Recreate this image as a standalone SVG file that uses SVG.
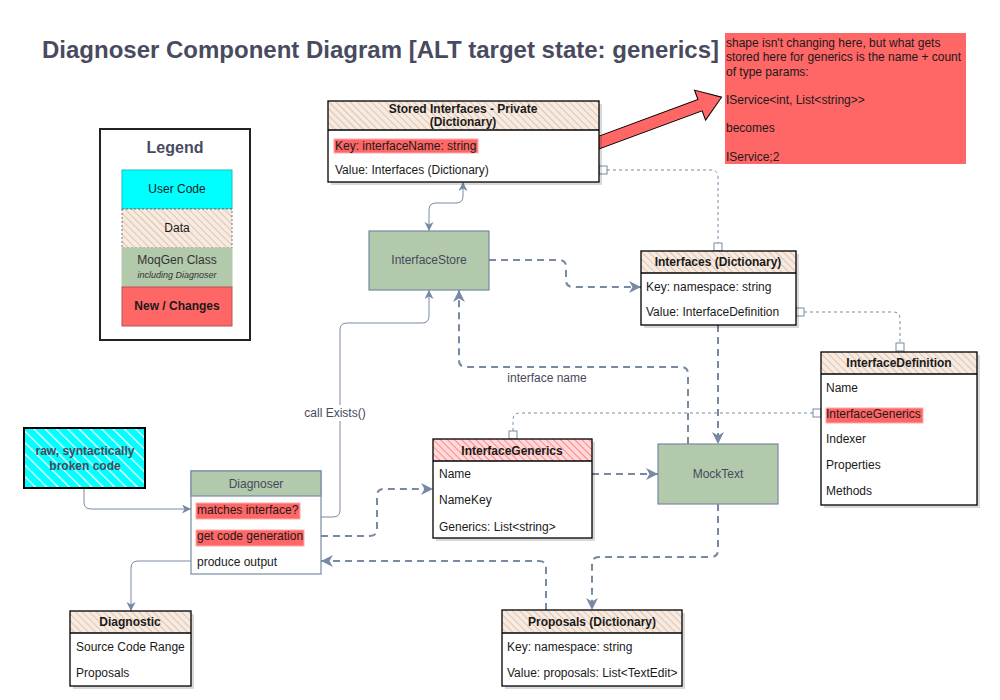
<svg xmlns="http://www.w3.org/2000/svg" width="1000" height="700" viewBox="0 0 1000 700">
<defs>
<pattern id="hatchData" patternUnits="userSpaceOnUse" width="5" height="5" patternTransform="rotate(-45)">
<rect width="5" height="5" fill="#f6ebe2"/>
<line x1="0" y1="0" x2="0" y2="5" stroke="#deb99c" stroke-width="1.6"/>
</pattern>
<pattern id="hatchRed" patternUnits="userSpaceOnUse" width="5" height="5" patternTransform="rotate(-45)">
<rect width="5" height="5" fill="#ffd9d9"/>
<line x1="0" y1="0" x2="0" y2="5" stroke="#ff7f7f" stroke-width="1.8"/>
</pattern>
<pattern id="hatchCyan" patternUnits="userSpaceOnUse" width="8" height="8" patternTransform="rotate(-45)">
<rect width="8" height="8" fill="#00ffff"/>
<line x1="0" y1="0" x2="0" y2="8" stroke="#ffffff" stroke-width="2.5"/>
</pattern>
<marker id="arrD" markerUnits="userSpaceOnUse" markerWidth="14" markerHeight="12" refX="12" refY="6" orient="auto">
<path d="M0,0 L12,6 L0,12 L3.5,6 z" fill="#788AA3"/>
</marker>
<marker id="arrS" markerUnits="userSpaceOnUse" markerWidth="10" markerHeight="10" refX="9" refY="4.5" orient="auto-start-reverse">
<path d="M0,0 L9,4.5 L0,9 L2.5,4.5 z" fill="#788AA3"/>
</marker>
</defs>
<style>
.t{font-family:"Liberation Sans",Arial,sans-serif;}
.row{font-family:"Liberation Sans",Arial,sans-serif;font-size:12px;fill:#1a1a1a;}
.hdr{font-family:"Liberation Sans",Arial,sans-serif;font-size:12px;font-weight:bold;fill:#1a1a1a;text-anchor:middle;}
.node{font-family:"Liberation Sans",Arial,sans-serif;font-size:12px;fill:#46495D;text-anchor:middle;}
.lbl{font-family:"Liberation Sans",Arial,sans-serif;font-size:12px;fill:#46495D;text-anchor:middle;}
.tbl{fill:none;stroke:#000;stroke-width:1.3;}
.shd{fill:#000;opacity:0.15;}
.green{fill:#B2C9AB;stroke:#788AA3;stroke-width:1.2;}
.hl{fill:#FF6666;stroke:#ffaaaa;stroke-width:1;}
.dash{fill:none;stroke:#788AA3;stroke-width:2;stroke-dasharray:7 5;}
.solid{fill:none;stroke:#788AA3;stroke-width:1;}
.dot{fill:none;stroke:#788AA3;stroke-width:1;stroke-dasharray:3 3;}
.sq{fill:#fff;stroke:#788AA3;stroke-width:1;}
</style>
<rect width="1000" height="700" fill="#ffffff"/>

<text class="t" x="42" y="58" font-size="24" font-weight="bold" fill="#484B5E">Diagnoser Component Diagram [ALT target state: generics]</text>

<g id="legend">
<rect x="100" y="129" width="150" height="211" fill="#fff" stroke="#222" stroke-width="2"/>
<text class="t" x="175" y="153" font-size="16" font-weight="bold" fill="#484B5E" text-anchor="middle">Legend</text>
<rect x="122" y="170" width="110" height="39" fill="#00ffff" stroke="#1fbcbc" stroke-width="1"/>
<text class="t" x="177" y="193" font-size="12" fill="#1a1a1a" text-anchor="middle">User Code</text>
<rect x="122" y="209" width="110" height="39" fill="url(#hatchData)" stroke="#555" stroke-width="0.8" stroke-dasharray="2 2"/>
<text class="t" x="177" y="232" font-size="12" fill="#1a1a1a" text-anchor="middle">Data</text>
<rect x="122" y="248" width="110" height="39" fill="#B2C9AB" stroke="#B2C9AB"/>
<text class="t" x="177" y="264" font-size="12" fill="#333" text-anchor="middle">MoqGen Class</text>
<text class="t" x="177" y="278" font-size="9" font-style="italic" fill="#333" text-anchor="middle">including Diagnoser</text>
<rect x="122" y="287" width="110" height="39" fill="#FF6666" stroke="#b85450" stroke-width="1"/>
<text class="t" x="177" y="310" font-size="12" font-weight="bold" fill="#1a1a1a" text-anchor="middle">New / Changes</text>
</g>

<g id="note">
<rect x="725" y="33" width="241" height="131" fill="#FF6666"/>
<text class="t" font-size="12" fill="#1a1a1a">
<tspan x="726" y="47">shape isn't changing here, but what gets</tspan>
<tspan x="726" y="61">stored here for generics is the name + count</tspan>
<tspan x="726" y="76">of type params:</tspan>
<tspan x="726" y="104">IService&lt;int, List&lt;string&gt;&gt;</tspan>
<tspan x="726" y="132">becomes</tspan>
<tspan x="726" y="161">IService;2</tspan>
</text>
</g>

<g id="bigarrow">
<g transform="translate(595,144) rotate(-20.3)">
<polygon points="0,-6 112,-6 112,-16 135,0 112,16 112,6 0,6" fill="#FF6666" stroke="#000" stroke-width="1"/>
</g>
</g>

<g id="connectors">
<path class="solid" d="M463,182 L463,196 Q463,203 456,203 L436,203 Q429,203 429,210 L429,231" marker-start="url(#arrS)" marker-end="url(#arrS)"/>
<path class="dot" d="M607,170 L711,170 Q718,170 718,177 L718,243"/>
<rect class="sq" x="599" y="166" width="8" height="8"/>
<rect class="sq" x="714" y="243" width="8" height="8"/>
<path class="dash" d="M489,260 L559,260 Q566,260 566,267 L566,280 Q566,287 573,287 L641,287" marker-end="url(#arrD)"/>
<path class="dot" d="M804,312 L893,312 Q900,312 900,319 L900,343"/>
<rect class="sq" x="796" y="308" width="8" height="8"/>
<rect class="sq" x="896" y="343" width="8" height="8"/>
<path class="dot" d="M813,413 L520,413 Q513,413 513,420 L513,431"/>
<rect class="sq" x="813" y="409" width="8" height="8"/>
<rect class="sq" x="509" y="431" width="8" height="8"/>
<path class="dash" d="M592,474 L658,474" marker-end="url(#arrD)"/>
<path class="dash" d="M718,325 L718,444" marker-end="url(#arrD)"/>
<path class="dash" d="M688,444 L688,374 Q688,367 681,367 L466,367 Q459,367 459,360 L459,290" marker-end="url(#arrD)"/>
<text class="lbl" x="547" y="382">interface name</text>
<path class="solid" d="M321,517 L333,517 Q340,517 340,510 L340,330 Q340,323 347,323 L422,323 Q429,323 429,316 L429,290" marker-end="url(#arrS)"/>
<rect x="302" y="405" width="66" height="16" fill="#fff"/>
<text class="lbl" x="335" y="417">call Exists()</text>
<path class="solid" d="M84,488 L84,502 Q84,509 91,509 L191,509" marker-end="url(#arrS)"/>
<path class="dash" d="M321,536 L370,536 Q377,536 377,529 L377,496 Q377,489 384,489 L433,489" marker-end="url(#arrD)"/>
<path class="dash" d="M546,610 L546,568 Q546,561 539,561 L321,561" marker-end="url(#arrD)"/>
<path class="dash" d="M718,504 L718,550 Q718,557 711,557 L599,557 Q592,557 592,564 L592,610" marker-end="url(#arrD)"/>
<path class="solid" d="M191,561 L138,561 Q131,561 131,568 L131,611" marker-end="url(#arrS)"/>
</g>

<g id="storedInterfaces">
<rect class="shd" x="331" y="104" width="271" height="81"/>
<rect x="328" y="101" width="271" height="81" fill="#fff"/>
<rect x="328" y="101" width="271" height="29" fill="url(#hatchData)"/>
<line x1="328" y1="130" x2="599" y2="130" stroke="#000" stroke-width="1.3"/>
<rect class="tbl" x="328" y="101" width="271" height="81"/>
<text class="hdr" x="463" y="113">Stored Interfaces - Private</text>
<text class="hdr" x="463" y="126">(Dictionary)</text>
<rect class="hl" x="334" y="139" width="144" height="14"/>
<text class="row" x="335" y="150">Key: interfaceName: string</text>
<text class="row" x="335" y="174">Value: Interfaces (Dictionary)</text>
</g>

<g id="interfaceStore">
<rect class="green" x="369" y="231" width="120" height="59"/>
<text class="node" x="429" y="264">InterfaceStore</text>
</g>

<g id="interfaces">
<rect class="shd" x="644" y="254" width="155" height="74"/>
<rect x="641" y="251" width="155" height="74" fill="#fff"/>
<rect x="641" y="251" width="155" height="22" fill="url(#hatchData)"/>
<line x1="641" y1="273" x2="796" y2="273" stroke="#000" stroke-width="1.3"/>
<rect class="tbl" x="641" y="251" width="155" height="74"/>
<text class="hdr" x="718" y="266">Interfaces (Dictionary)</text>
<text class="row" x="646" y="291">Key: namespace: string</text>
<text class="row" x="646" y="316">Value: InterfaceDefinition</text>
</g>

<g id="interfaceDefinition">
<rect class="shd" x="824" y="355" width="156" height="153"/>
<rect x="821" y="352" width="156" height="153" fill="#fff"/>
<rect x="821" y="352" width="156" height="22" fill="url(#hatchData)"/>
<line x1="821" y1="374" x2="977" y2="374" stroke="#000" stroke-width="1.3"/>
<rect class="tbl" x="821" y="352" width="156" height="153"/>
<text class="hdr" x="899" y="367">InterfaceDefinition</text>
<text class="row" x="826" y="392">Name</text>
<rect class="hl" x="826" y="408" width="97" height="15"/>
<text class="row" x="826" y="418">InterfaceGenerics</text>
<text class="row" x="826" y="443">Indexer</text>
<text class="row" x="826" y="469">Properties</text>
<text class="row" x="826" y="495">Methods</text>
</g>

<g id="interfaceGenerics">
<rect class="shd" x="436" y="442" width="159" height="99"/>
<rect x="433" y="439" width="159" height="99" fill="#fff"/>
<rect x="433" y="439" width="159" height="22" fill="url(#hatchRed)"/>
<line x1="433" y1="461" x2="592" y2="461" stroke="#000" stroke-width="1.3"/>
<rect class="tbl" x="433" y="439" width="159" height="99"/>
<text class="hdr" x="512" y="455">InterfaceGenerics</text>
<text class="row" x="439" y="478">Name</text>
<text class="row" x="439" y="504">NameKey</text>
<text class="row" x="439" y="531">Generics: List&lt;string&gt;</text>
</g>

<g id="mockText">
<rect class="green" x="658" y="444" width="120" height="60"/>
<text class="node" x="718" y="478">MockText</text>
</g>

<g id="rawCode">
<rect x="24" y="428" width="121" height="60" fill="url(#hatchCyan)" stroke="#000" stroke-width="2"/>
<text class="t" x="85" y="455" font-size="12" font-weight="bold" fill="#46495D" text-anchor="middle">raw, syntactically</text>
<text class="t" x="85" y="470" font-size="12" font-weight="bold" fill="#46495D" text-anchor="middle">broken code</text>
</g>

<g id="diagnoser">
<rect x="191" y="471" width="130" height="103" fill="#fff" stroke="#788AA3" stroke-width="1.2"/>
<rect class="green" x="191" y="471" width="130" height="25"/>
<text class="node" x="256" y="488">Diagnoser</text>
<rect class="hl" x="196" y="503" width="104" height="16"/>
<text class="row" x="197" y="514">matches interface?</text>
<rect class="hl" x="196" y="530" width="108" height="16"/>
<text class="row" x="197" y="540">get code generation</text>
<text class="row" x="197" y="566">produce output</text>
</g>

<g id="diagnostic">
<rect class="shd" x="73" y="614" width="121" height="75"/>
<rect x="70" y="611" width="121" height="75" fill="#fff"/>
<rect x="70" y="611" width="121" height="22" fill="url(#hatchData)"/>
<line x1="70" y1="633" x2="191" y2="633" stroke="#000" stroke-width="1.3"/>
<rect class="tbl" x="70" y="611" width="121" height="75"/>
<text class="hdr" x="130" y="626">Diagnostic</text>
<text class="row" x="76" y="651">Source Code Range</text>
<text class="row" x="76" y="677">Proposals</text>
</g>

<g id="proposals">
<rect class="shd" x="505" y="613" width="180" height="76"/>
<rect x="502" y="610" width="180" height="76" fill="#fff"/>
<rect x="502" y="610" width="180" height="23" fill="url(#hatchData)"/>
<line x1="502" y1="633" x2="682" y2="633" stroke="#000" stroke-width="1.3"/>
<rect class="tbl" x="502" y="610" width="180" height="76"/>
<text class="hdr" x="592" y="626">Proposals (Dictionary)</text>
<text class="row" x="507" y="651">Key: namespace: string</text>
<text class="row" x="507" y="677">Value: proposals: List&lt;TextEdit&gt;</text>
</g>
</svg>
